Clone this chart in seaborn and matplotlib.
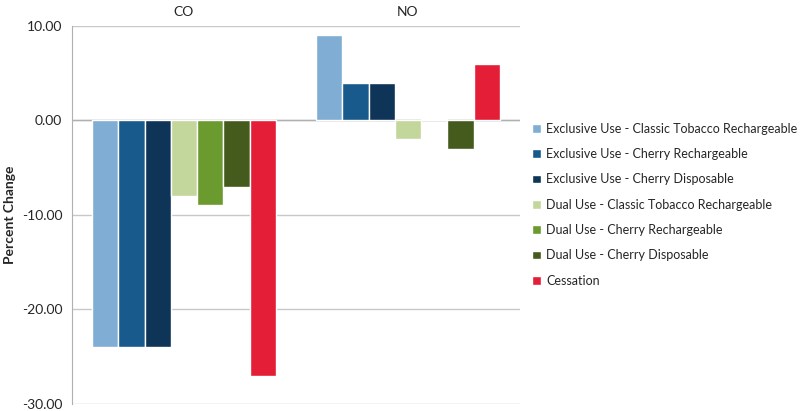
import numpy as np
import pandas as pd
import matplotlib
matplotlib.use("Agg")
import matplotlib.pyplot as plt
import seaborn as sns

# data
gases = ["CO", "NO"]
groups = ["Exclusive Use - Classic Tobacco Rechargeable",
          "Exclusive Use - Cherry Rechargeable",
          "Exclusive Use - Cherry Disposable",
          "Dual Use - Classic Tobacco Rechargeable",
          "Dual Use - Cherry Rechargeable",
          "Dual Use - Cherry Disposable",
          "Cessation"]
co_vals = [-24, -24, -24, -8, -9, -7, -27]
no_vals = [9, 4, 4, -2, 0.2, -3, 6]
colors = ["#7fadd3", "#175a8b", "#0e3457", "#c3d69b", "#6b9a2f", "#445b1d", "#e31e36"]

rows = []
for g, c, n in zip(groups, co_vals, no_vals):
    rows.append({"gas": "CO", "group": g, "value": c})
    rows.append({"gas": "NO", "group": g, "value": n})
df = pd.DataFrame(rows)

sns.set_style("white")
plt.rcParams["font.family"] = ["Lato", "DejaVu Sans"]

fig = plt.figure(figsize=(8, 4.11), dpi=100)
ax = fig.add_axes([0.09, 0.017, 0.56, 0.92])

sns.barplot(data=df, x="gas", y="value", hue="group", order=gases, hue_order=groups,
            palette=colors, saturation=1, width=0.82, gap=0, ax=ax, legend=True)

ax.set_ylim(-30, 10)
ax.set_yticks([-30, -20, -10, 0, 10])
ax.set_yticklabels([f"{v:.2f}" for v in [-30, -20, -10, 0, 10]], fontsize=10)
ax.yaxis.grid(True, color="#c8c8c8", linewidth=1)
ax.set_axisbelow(True)
ax.tick_params(axis="y", length=4, color="#b0b0b0", width=1, pad=3)

ax.xaxis.tick_top()
ax.tick_params(axis="x", length=0, labelsize=10, pad=6)
ax.set_xlabel("")
ax.set_ylabel("Percent Change", fontsize=10, fontweight="bold", labelpad=4)

for s in ["top", "right", "bottom"]:
    ax.spines[s].set_visible(False)
ax.spines["left"].set_color("#b0b0b0")
ax.axhline(0, color="#b0b0b0", linewidth=1, zorder=0.6)

handles, labels = ax.get_legend_handles_labels()
ax.get_legend().remove()
fig.legend(handles, labels, loc="upper left", bbox_to_anchor=(0.659, 0.714),
           frameon=False, fontsize=9, handlelength=0.7, handleheight=0.7,
           handletextpad=0.4, labelspacing=1.07, borderaxespad=0)

fig.savefig("out.png", dpi=100)
